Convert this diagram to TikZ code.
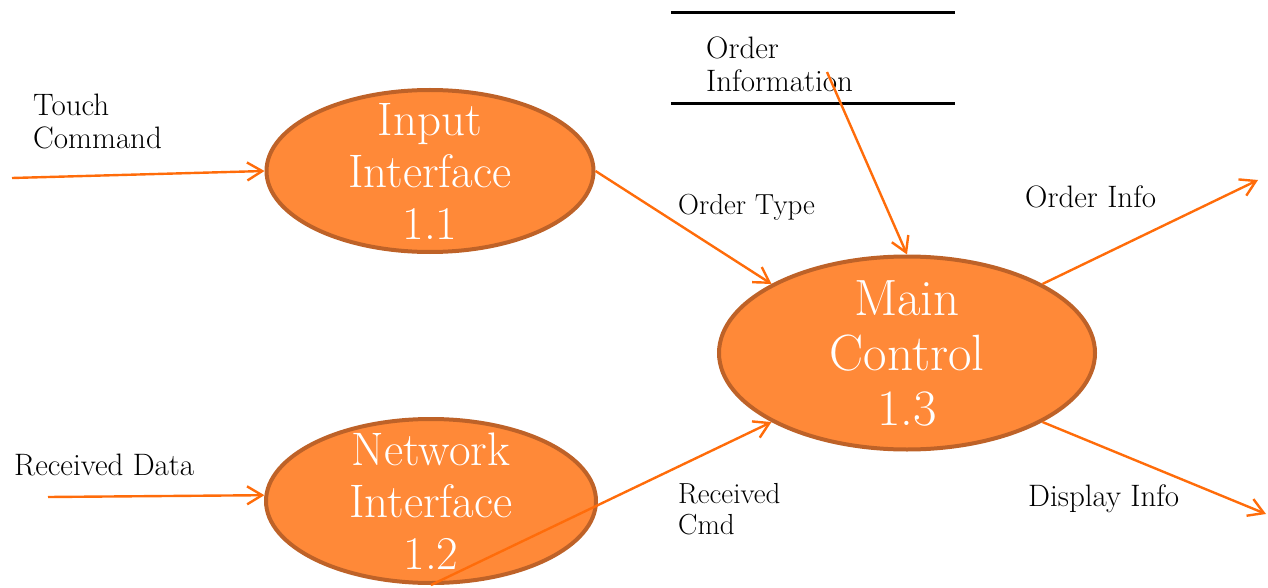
\documentclass[tikz,border=0pt]{standalone}
\usetikzlibrary{arrows.meta,shapes.geometric}
\definecolor{procfill}{RGB}{255,137,56}
\definecolor{procline}{RGB}{190,98,40}
\definecolor{flowcol}{RGB}{255,108,10}
\tikzset{
  proc/.style={ellipse, draw=procline, line width=4pt, fill=procfill, inner sep=0pt},
  proctext/.style={text=white, align=center, inner sep=0pt, font=\fontsize{47}{52}\selectfont},
  maintext/.style={proctext, font=\fontsize{51}{55}\selectfont},
  flow/.style={draw=flowcol, line width=2.4pt, -{Straight Barb[length=15pt,width=18pt,line width=2.4pt]}},
  lbl/.style={anchor=west, inner sep=0pt, align=left, font=\fontsize{31}{33}\selectfont},
  smalllbl/.style={lbl, font=\fontsize{29}{31}\selectfont},
  storeline/.style={draw=black, line width=3pt}
}
\begin{document}
\begin{tikzpicture}[x=1pt,y=-1pt]
\useasboundingbox (0,0) rectangle (1268,588);

% processes
\node[proc, minimum width=327pt, minimum height=162pt,
  label={[proctext]center:{Input\\Interface\\1.1}}] (n1) at (430,171) {};
\node[proc, minimum width=330pt, minimum height=164pt,
  label={[proctext]center:{Network\\Interface\\1.2}}] (n2) at (431,501) {};
\node[proc, minimum width=376pt, minimum height=193pt,
  label={[maintext]center:{Main\\Control\\1.3}}] (n3) at (907,353) {};

% data store
\node[minimum width=284pt, minimum height=90pt, inner sep=0pt] (store) at (813,58) {};
\draw[storeline] (store.north west) -- (store.north east);
\draw[storeline] (store.south west) -- (store.south east);
\node[lbl] (storetext) at (706,64) {Order\\Information};

% free ends
\coordinate (tc) at (12,178);
\coordinate (rd) at (48,497);
\coordinate (src) at (827,72);
\coordinate (oi) at (1258,180);
\coordinate (di) at (1266,514);

% flows
\draw[flow] (tc) -- (n1.west);
\draw[flow] (rd) -- (n2.178.5);
\draw[flow] (n1.east) -- (n3.153);
\draw[flow] (n2.south) -- (n3.207);
\draw[flow] (src) -- (n3.north);
\draw[flow] (n3.27.6) -- (oi);
\draw[flow] (n3.-27.6) -- (di);

% labels
\node[lbl] (ltc) at (33,121) {Touch\\Command};
\node[lbl] (lrd) at (14,465) {Received Data};
\node[smalllbl] (lot) at (678,207) {Order Type};
\node[smalllbl] (lrc) at (678,509) {Received\\Cmd};
\node[lbl] (loi) at (1025,197) {Order Info};
\node[lbl] (ldi) at (1028,499) {Display Info};
\end{tikzpicture}
\end{document}
